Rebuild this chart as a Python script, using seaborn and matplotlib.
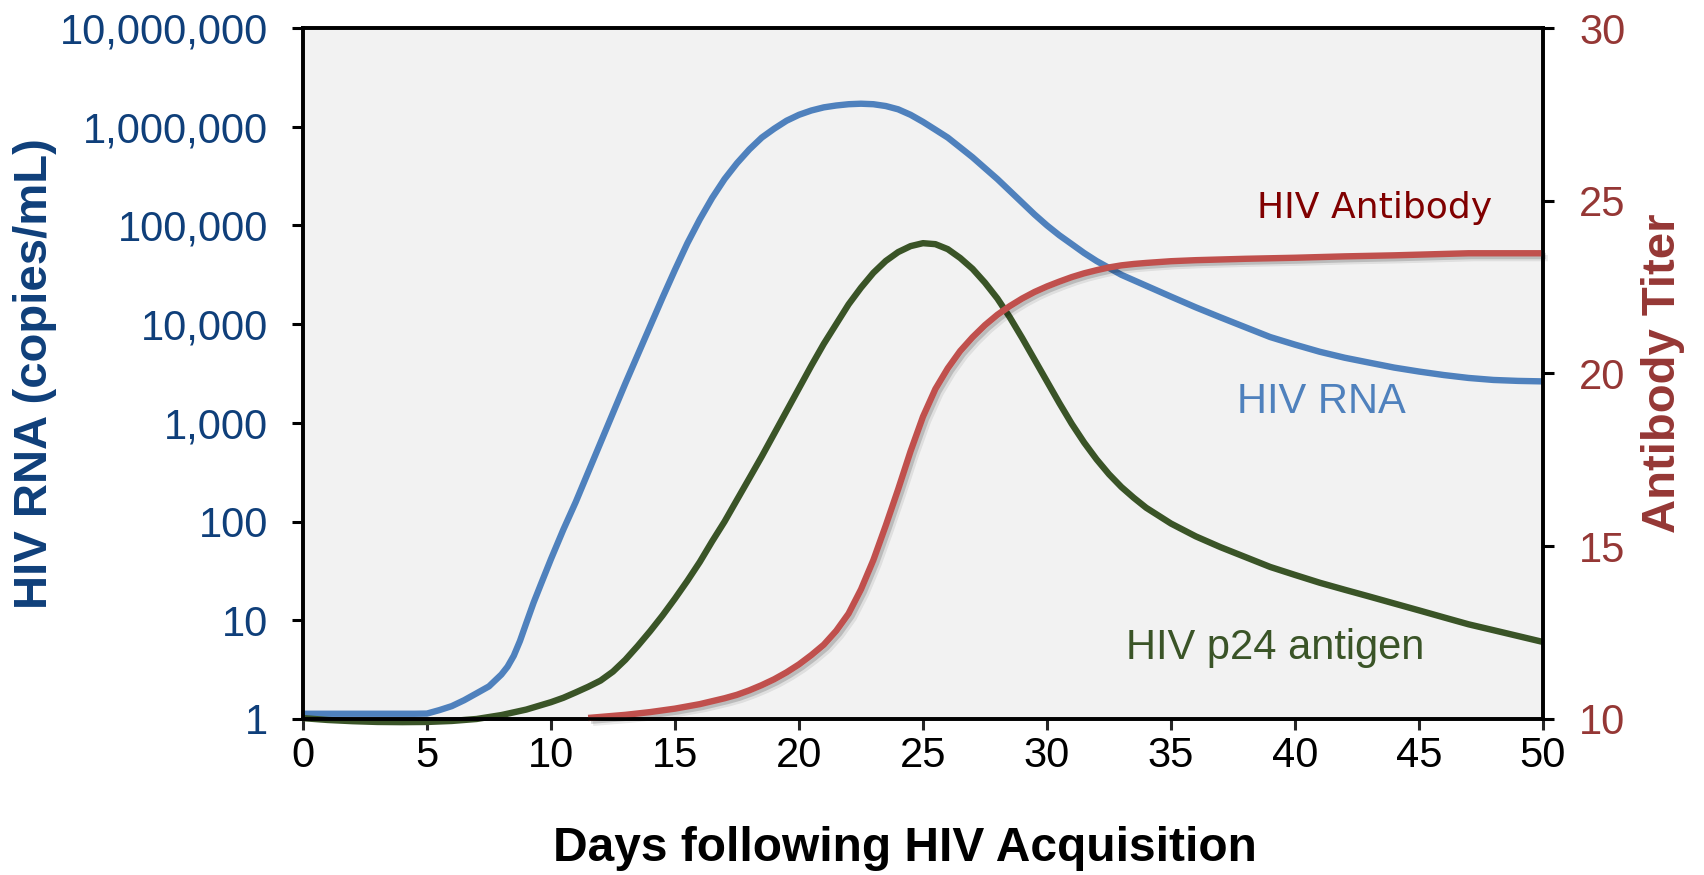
import matplotlib

matplotlib.use("Agg")
import matplotlib.patheffects as pe
import matplotlib.pyplot as plt
import pandas as pd
import seaborn as sns
from matplotlib.ticker import FixedLocator, FuncFormatter, NullLocator

# HIV RNA (copies/mL)
rna_days = [0, 4.5, 5, 5.5, 6, 6.5, 7, 7.5, 8, 8.25, 8.5, 8.75, 9, 9.3, 9.6, 10, 10.5, 11, 11.5, 12,
            12.5, 13, 13.5, 14, 14.5, 15, 15.5, 16, 16.5, 17, 17.5, 18, 18.5, 19, 19.5, 20, 20.5, 21,
            21.5, 22, 22.5, 23, 23.5, 24, 24.5, 25, 25.5, 26, 26.5, 27, 27.5, 28, 28.5, 29, 29.5, 30,
            30.5, 31, 31.5, 32, 33, 34, 35, 36, 37, 38, 39, 40, 41, 42, 43, 44, 45, 46, 47, 48, 49, 50]
rna_copies = [1.13, 1.13, 1.135, 1.23, 1.35, 1.55, 1.82, 2.14, 2.82, 3.39, 4.37, 6.17, 9.3, 15.1, 23.4,
              41.7, 83, 158, 316, 631, 1259, 2512, 4900, 9550, 18600, 35500, 66000, 115000, 190000,
              295000, 427000, 589000, 776000, 955000, 1.15e6, 1.32e6, 1.46e6, 1.57e6, 1.64e6, 1.69e6,
              1.71e6, 1.69e6, 1.62e6, 1.50e6, 1.32e6, 1.12e6, 933000, 776000, 617000, 490000, 380000,
              295000, 224000, 170000, 129000, 100000, 79400, 64600, 52500, 43600, 31600, 24500, 19000,
              14800, 11700, 9300, 7400, 6200, 5250, 4570, 4070, 3630, 3310, 3050, 2850, 2720, 2660,
              2630]

# HIV p24 antigen, same log axis
p24_days = [0, 1, 2, 3, 4, 5, 6, 7, 8, 9, 10, 10.5, 11, 11.5, 12, 12.5, 13, 13.5, 14, 14.5, 15, 15.5,
            16, 16.5, 17, 17.5, 18, 18.5, 19, 19.5, 20, 20.5, 21, 21.5, 22, 22.5, 23, 23.5, 24, 24.5,
            25, 25.5, 26, 26.5, 27, 27.5, 28, 28.5, 29, 29.5, 30, 30.5, 31, 31.5, 32, 32.5, 33, 33.5,
            34, 35, 36, 37, 38, 39, 40, 41, 42, 43, 44, 45, 46, 47, 48, 49, 50]
p24_level = [1.02, 0.977, 0.95, 0.933, 0.929, 0.933, 0.955, 1.0, 1.096, 1.245, 1.48, 1.64, 1.86, 2.12,
             2.45, 3.02, 3.98, 5.5, 7.76, 11.2, 16.6, 25.1, 38.9, 63.1, 100, 166, 275, 457, 776, 1318,
             2239, 3802, 6310, 10000, 15850, 23400, 33100, 43650, 53700, 61700, 66100, 64600, 57500,
             46800, 36300, 26300, 18200, 11750, 7240, 4365, 2630, 1585, 977, 631, 427, 302, 224, 174,
             138, 95.5, 70.8, 55, 43.7, 34.7, 28.8, 24, 20.4, 17.4, 14.8, 12.6, 10.7, 9.1, 7.94, 6.92,
             6.03]

# antibody titer, right axis
ab_days = [11.5, 12, 13, 14, 15, 16, 17, 17.5, 18, 18.5, 19, 19.5, 20, 20.5, 21, 21.5, 22, 22.5, 23,
           23.5, 24, 24.5, 25, 25.5, 26, 26.5, 27, 27.5, 28, 28.5, 29, 29.5, 30, 30.5, 31, 31.5, 32,
           32.5, 33, 33.5, 34, 35, 36, 38, 40, 42, 44, 46, 47, 48, 50]
ab_titer = [10.03, 10.06, 10.12, 10.2, 10.3, 10.43, 10.6, 10.7, 10.83, 10.98, 11.15, 11.35, 11.58,
            11.85, 12.15, 12.55, 13.05, 13.75, 14.6, 15.6, 16.65, 17.75, 18.75, 19.55, 20.15, 20.65,
            21.05, 21.4, 21.7, 21.95, 22.17, 22.36, 22.52, 22.66, 22.79, 22.9, 22.99, 23.07, 23.13,
            23.17, 23.2, 23.25, 23.28, 23.32, 23.35, 23.39, 23.42, 23.46, 23.48, 23.48, 23.48]

x_ticks = [0, 5, 10, 15, 20, 25, 30, 35, 40, 45, 50]
rna_ticks = [1, 10, 100, 1000, 10000, 100000, 1000000, 10000000]
titer_ticks = [10, 15, 20, 25, 30]

BLUE = "#4F81BD"
GREEN = "#3A5427"
RED = "#C0504D"
LEFT_TXT = "#0F3F7A"
RIGHT_TXT = "#953735"
LW = 4.6

sns.set_theme(style="white")
plt.rcParams["font.family"] = ["Liberation Sans", "DejaVu Sans"]

fig = plt.figure(figsize=(17.04, 8.75), dpi=100)
ax = fig.add_axes([0.1778, 0.1783, 0.7277, 0.7897])
ax.set_facecolor("#F2F2F2")

rna = pd.DataFrame({"day": rna_days, "value": rna_copies})
p24 = pd.DataFrame({"day": p24_days, "value": p24_level})
ab = pd.DataFrame({"day": ab_days, "value": ab_titer})

line_kw = dict(linewidth=LW, sort=False, estimator=None, solid_capstyle="butt",
               solid_joinstyle="round", clip_on=False)
sns.lineplot(data=rna, x="day", y="value", color=BLUE, ax=ax, **line_kw)
sns.lineplot(data=p24, x="day", y="value", color=GREEN, ax=ax, **line_kw)
for ln in ax.lines:
    ln.set_linewidth(LW)

ax.set_yscale("log")
ax.set_xlim(0, 50)
ax.set_ylim(1, 1e7)
ax.xaxis.set_major_locator(FixedLocator(x_ticks))
ax.yaxis.set_major_locator(FixedLocator(rna_ticks))
ax.yaxis.set_minor_locator(NullLocator())
ax.yaxis.set_major_formatter(FuncFormatter(lambda v, _: f"{int(round(v)):,}"))
ax.tick_params(axis="y", direction="out", length=8, width=2.2, labelsize=30, colors="black",
               labelcolor=LEFT_TXT, pad=17)
ax.tick_params(axis="x", direction="out", length=8, width=2.2, labelsize=30, labelcolor="black", pad=4)
ax.tick_params(left=True, bottom=True)
for s in ax.spines.values():
    s.set_color("black")
    s.set_linewidth(2.6)

ax.set_xlabel("Days following HIV Acquisition", fontsize=34.5, fontweight="bold", color="black",
              va="center")
ax.xaxis.set_label_coords(0.4855, -0.187)
ax.set_ylabel("HIV RNA (copies/mL)", fontsize=34, fontweight="bold", color=LEFT_TXT, va="center")
ax.yaxis.set_label_coords(-0.216, 0.5)

ax2 = ax.twinx()
ax2.set_facecolor("none")
sns.lineplot(data=ab, x="day", y="value", color=RED, ax=ax2,
             path_effects=[pe.SimpleLineShadow(offset=(3.5, -3.5), shadow_color="black", alpha=0.08),
                           pe.SimpleLineShadow(offset=(2, -2), shadow_color="black", alpha=0.16),
                           pe.Normal()],
             **line_kw)
for ln in ax2.lines:
    ln.set_linewidth(LW)
ax2.set_ylim(10, 30)
ax2.yaxis.set_major_locator(FixedLocator(titer_ticks))
ax2.tick_params(axis="y", direction="out", length=8, width=2.2, labelsize=30, colors="black",
                labelcolor=RIGHT_TXT, pad=18, right=True)
for s in ax2.spines.values():
    s.set_color("black")
    s.set_linewidth(2.6)
ax2.set_ylabel("Antibody Titer", fontsize=34, fontweight="bold", color=RIGHT_TXT, va="center",
               rotation=90)
ax2.yaxis.set_label_coords(1.097, 0.5)
ax2.set_xlabel("")

ax2.text(43.2, 24.78, "HIV Antibody", color="#800000", fontsize=26, ha="center", va="center",
         family=["DejaVu Sans"])
ax.text(41.06, 1620, "HIV RNA", color=BLUE, fontsize=30, ha="center", va="center")
ax.text(39.2, 5.2, "HIV p24 antigen", color=GREEN, fontsize=30, ha="center", va="center")

fig.savefig("out.png", dpi=100)
